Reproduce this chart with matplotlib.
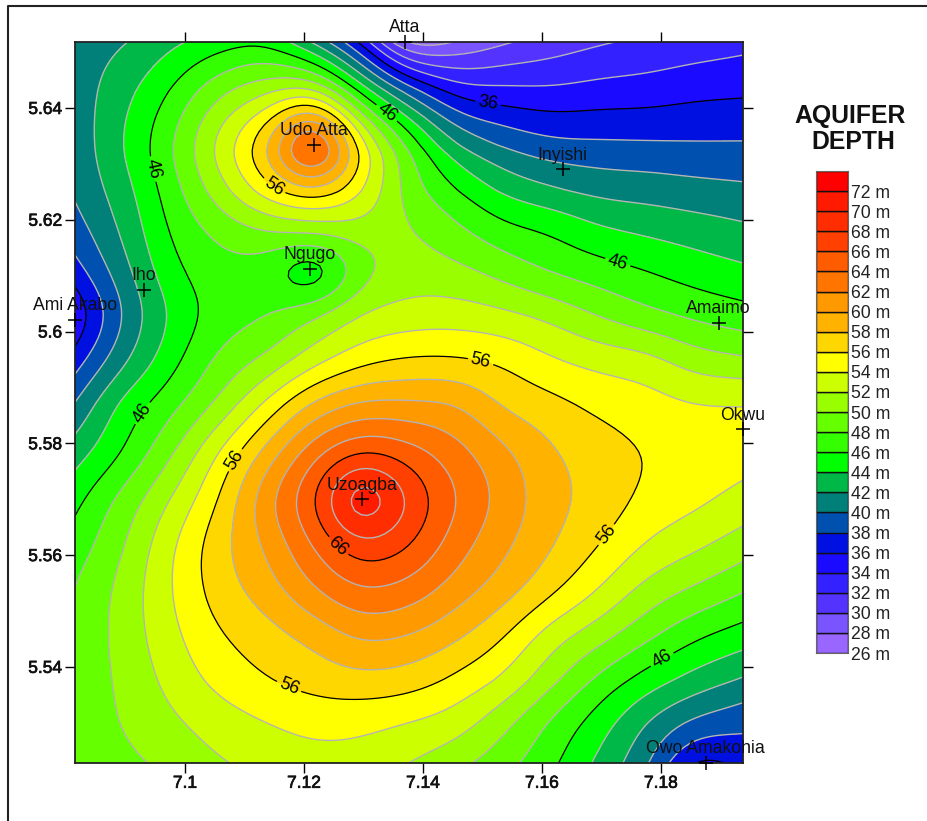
import matplotlib
matplotlib.use("Agg")
import matplotlib.pyplot as plt
import matplotlib.patheffects as pe
from matplotlib.lines import Line2D
import numpy as np

plt.rcParams['font.family'] = ['Liberation Sans', 'DejaVu Sans']

W, H = 927, 821

# depth (m), rows north to south, columns west to east
lon = [7.0815, 7.0895, 7.0975, 7.1056, 7.1136, 7.1216, 7.1296, 7.1376,
       7.1457, 7.1537, 7.1617, 7.1697, 7.1777, 7.1858, 7.1938]
lat = [5.6518, 5.6429, 5.6334, 5.6253, 5.6182, 5.6108, 5.6030, 5.5949, 5.5869,
       5.5785, 5.5701, 5.5618, 5.5538, 5.5457, 5.5377, 5.5302, 5.5228]
depth = [
    [41.0, 41.8, 43.5, 45.0, 45.6, 41.8, 35.7, 27.3, 28.2, 29.8, 30.9, 31.8, 32.4, 32.9, 33.4],
    [40.9, 43.3, 46.1, 49.5, 51.5, 52.4, 45.4, 39.4, 35.2, 34.6, 34.4, 34.8, 35.0, 35.5, 35.7],
    [40.7, 44.0, 47.8, 52.7, 58.0, 66.6, 55.3, 47.8, 42.2, 39.8, 38.6, 38.4, 38.3, 38.2, 38.2],
    [40.3, 43.1, 47.0, 51.0, 55.0, 57.4, 54.1, 49.1, 46.1, 43.6, 42.3, 41.4, 41.1, 40.7, 40.4],
    [39.1, 42.3, 46.2, 48.6, 50.1, 50.7, 51.1, 50.2, 48.4, 46.6, 45.7, 44.3, 43.6, 43.0, 42.4],
    [37.2, 41.2, 45.3, 47.2, 46.9, 44.2, 49.2, 50.9, 50.5, 49.2, 47.8, 46.9, 46.0, 45.1, 44.4],
    [34.3, 40.0, 44.2, 46.9, 47.9, 49.7, 52.1, 52.9, 53.0, 52.4, 51.4, 49.8, 48.5, 47.5, 46.8],
    [37.0, 41.5, 45.2, 48.4, 50.4, 53.2, 55.3, 56.2, 56.2, 55.6, 54.2, 53.3, 52.7, 51.0, 50.3],
    [40.2, 44.6, 47.3, 50.4, 54.4, 58.4, 60.4, 60.4, 60.0, 57.7, 56.6, 55.5, 54.8, 54.1, 54.1],
    [43.0, 46.0, 49.6, 54.0, 58.6, 63.2, 65.9, 64.8, 62.7, 60.4, 58.2, 56.9, 55.9, 55.3, 54.8],
    [45.4, 48.6, 52.0, 56.0, 61.3, 65.9, 71.9, 67.8, 64.0, 61.3, 58.7, 57.2, 55.5, 54.5, 53.3],
    [46.9, 49.8, 53.6, 57.2, 60.3, 64.1, 67.4, 66.1, 62.9, 60.4, 58.1, 56.0, 53.8, 52.4, 51.0],
    [48.1, 50.6, 53.9, 56.9, 59.0, 61.8, 63.9, 63.2, 61.0, 58.9, 56.4, 53.9, 51.3, 49.7, 48.2],
    [48.4, 50.7, 53.4, 55.8, 57.2, 58.7, 60.4, 60.0, 58.4, 56.1, 53.0, 50.8, 48.5, 46.4, 45.1],
    [48.6, 50.4, 52.6, 54.6, 55.9, 56.8, 57.4, 57.0, 55.5, 53.6, 50.5, 47.5, 45.1, 43.2, 41.8],
    [48.7, 50.1, 51.6, 53.0, 54.0, 54.7, 54.6, 54.0, 53.0, 50.6, 47.7, 45.0, 42.0, 39.6, 38.6],
    [48.8, 49.5, 50.5, 51.8, 52.6, 53.2, 53.1, 52.0, 50.6, 48.7, 46.4, 43.5, 40.3, 35.6, 36.6],
]

levels = list(range(26, 76, 2))
band_colors = ['#9966ff', '#7a55ff', '#5533ff', '#3322ff', '#1a0aff', '#0010e0',
               '#0050b0', '#008078', '#00b848', '#00ff00', '#33ff00', '#66ff00',
               '#99ff00', '#ccff00', '#ffff00', '#ffd700', '#ffb200', '#ff9900',
               '#ff7500', '#ff5c00', '#ff4000', '#ff2d00', '#ff1a00', '#ff0000']
major_levels = [36, 46, 56, 66]

stations = ['Atta', 'Udo Atta', 'Inyishi', 'Ngugo', 'Iho', 'Ami Akabo', 'Amaimo',
            'Okwu', 'Uzoagba', 'Owo Amakohia']
station_lon = [7.1370, 7.1217, 7.1635, 7.1210, 7.0931, 7.0815, 7.1897, 7.1938, 7.1298, 7.1875]
station_lat = [5.6518, 5.6334, 5.6290, 5.6112, 5.6075, 5.6021, 5.6016, 5.5825, 5.5700, 5.5228]

xticks = [7.10, 7.12, 7.14, 7.16, 7.18]
xticklabels = ['7.1', '7.12', '7.14', '7.16', '7.18']
yticks = [5.54, 5.56, 5.58, 5.60, 5.62, 5.64]
yticklabels = ['5.54', '5.56', '5.58', '5.6', '5.62', '5.64']

# contour label spots, (lon, lat)
label_spots = [(7.0939, 5.6289), (7.0938, 5.5847), (7.1336, 5.6387), (7.1728, 5.6126),
               (7.1802, 5.5413), (7.1509, 5.6405), (7.1151, 5.6262), (7.1084, 5.5770),
               (7.1496, 5.5944), (7.1704, 5.5640), (7.1171, 5.5355), (7.1252, 5.5609)]


def smooth(z, n=8, sigma=2.5):
    # catmull-rom between the read values, then a light blur, so the bands are not angular
    def along(a):
        a = np.concatenate([2*a[:1]-a[1:2], a, 2*a[-1:]-a[-2:-1]])
        out = []
        for i in range(1, len(a)-2):
            t = np.arange(n)[:, None]/n
            out.append(0.5*(2*a[i] + (a[i+1]-a[i-1])*t + (2*a[i-1]-5*a[i]+4*a[i+1]-a[i+2])*t**2
                            + (3*a[i]-a[i-1]-3*a[i+1]+a[i+2])*t**3))
        out.append(a[-2:-1])
        return np.vstack(out)

    def blur(a):
        r = int(3*sigma)
        k = np.exp(-0.5*(np.arange(-r, r+1)/sigma)**2)
        k = k/k.sum()
        p = np.pad(a, ((r, r), (0, 0)), mode='reflect', reflect_type='odd')
        return np.apply_along_axis(lambda c: np.convolve(c, k, mode='valid'), 0, p)

    z = blur(along(z))
    return blur(along(z.T)).T


fig = plt.figure(figsize=(W/100, H/100), dpi=100)
ax = fig.add_axes([75/W, 1-763/H, (743-75)/W, (763-42)/H])

z = smooth(np.array(depth))
xs = np.interp(np.linspace(0, len(lon)-1, z.shape[1]), range(len(lon)), lon)
ys = np.interp(np.linspace(0, len(lat)-1, z.shape[0]), range(len(lat)), lat)

ax.contourf(xs, ys, z, levels=levels, colors=band_colors)
minor = [l for l in levels if l not in major_levels]
ax.contour(xs, ys, z, levels=minor, colors='#b4b4b4', linewidths=1.0)
cs = ax.contour(xs, ys, z, levels=major_levels, colors='black', linewidths=0.9)
ax.clabel(cs, fmt='%d', fontsize=13, manual=label_spots, inline=True, inline_spacing=3)

ax.set_xlim(lon[0], lon[-1])
ax.set_ylim(lat[-1], lat[0])
ax.set_xticks(xticks)
ax.set_xticklabels(xticklabels)
ax.set_yticks(yticks)
ax.set_yticklabels(yticklabels)
ax.tick_params(top=True, right=True, length=7.2, width=1, pad=2, labelsize=12.5)
for s in ax.spines.values():
    s.set_linewidth(1.3)
    s.set_color('#222222')
for lab in ax.get_xticklabels()+ax.get_yticklabels():
    lab.set_color('#111111')
    lab.set_path_effects([pe.withStroke(linewidth=0.5, foreground='#111111')])

ax.plot(station_lon, station_lat, '+', color='black', ms=10, mew=1.1, clip_on=False, zorder=5)
for name, a, b in zip(stations, station_lon, station_lat):
    ax.annotate(name, (a, b), xytext=(0, 4), textcoords='offset points', ha='center',
                va='bottom', fontsize=12.7, color='#111111', annotation_clip=False, zorder=6)

# legend scale
cax = fig.add_axes([816/W, 1-653/H, 32/W, (653-171)/H])
cax.bar([0]*len(band_colors), [2]*len(band_colors), bottom=levels[:-1], width=1,
        color=band_colors, edgecolor='#111111', linewidth=1)
cax.set_xlim(-0.5, 0.5)
cax.set_ylim(levels[0], levels[-1])
cax.set_xticks([])
cax.yaxis.tick_right()
cax.set_yticks(levels[:-1])
cax.set_yticklabels([str(l)+' m' for l in levels[:-1]])
cax.tick_params(length=0, pad=2, labelsize=12.7, labelcolor='#222222')
for s in cax.spines.values():
    s.set_color('#666666')

fig.text(850/W, 1-116/H, 'AQUIFER', ha='center', va='center', fontsize=17.8, fontweight='bold', color='#111111')
fig.text(853/W, 1-142/H, 'DEPTH', ha='center', va='center', fontsize=17.8, fontweight='bold', color='#111111')

# page frame, top and left only
fig.add_artist(Line2D([8/W, 8/W, 1], [0, 1-6/H, 1-6/H], color='#222222', lw=1.5))

fig.savefig('out.png', dpi=100)
